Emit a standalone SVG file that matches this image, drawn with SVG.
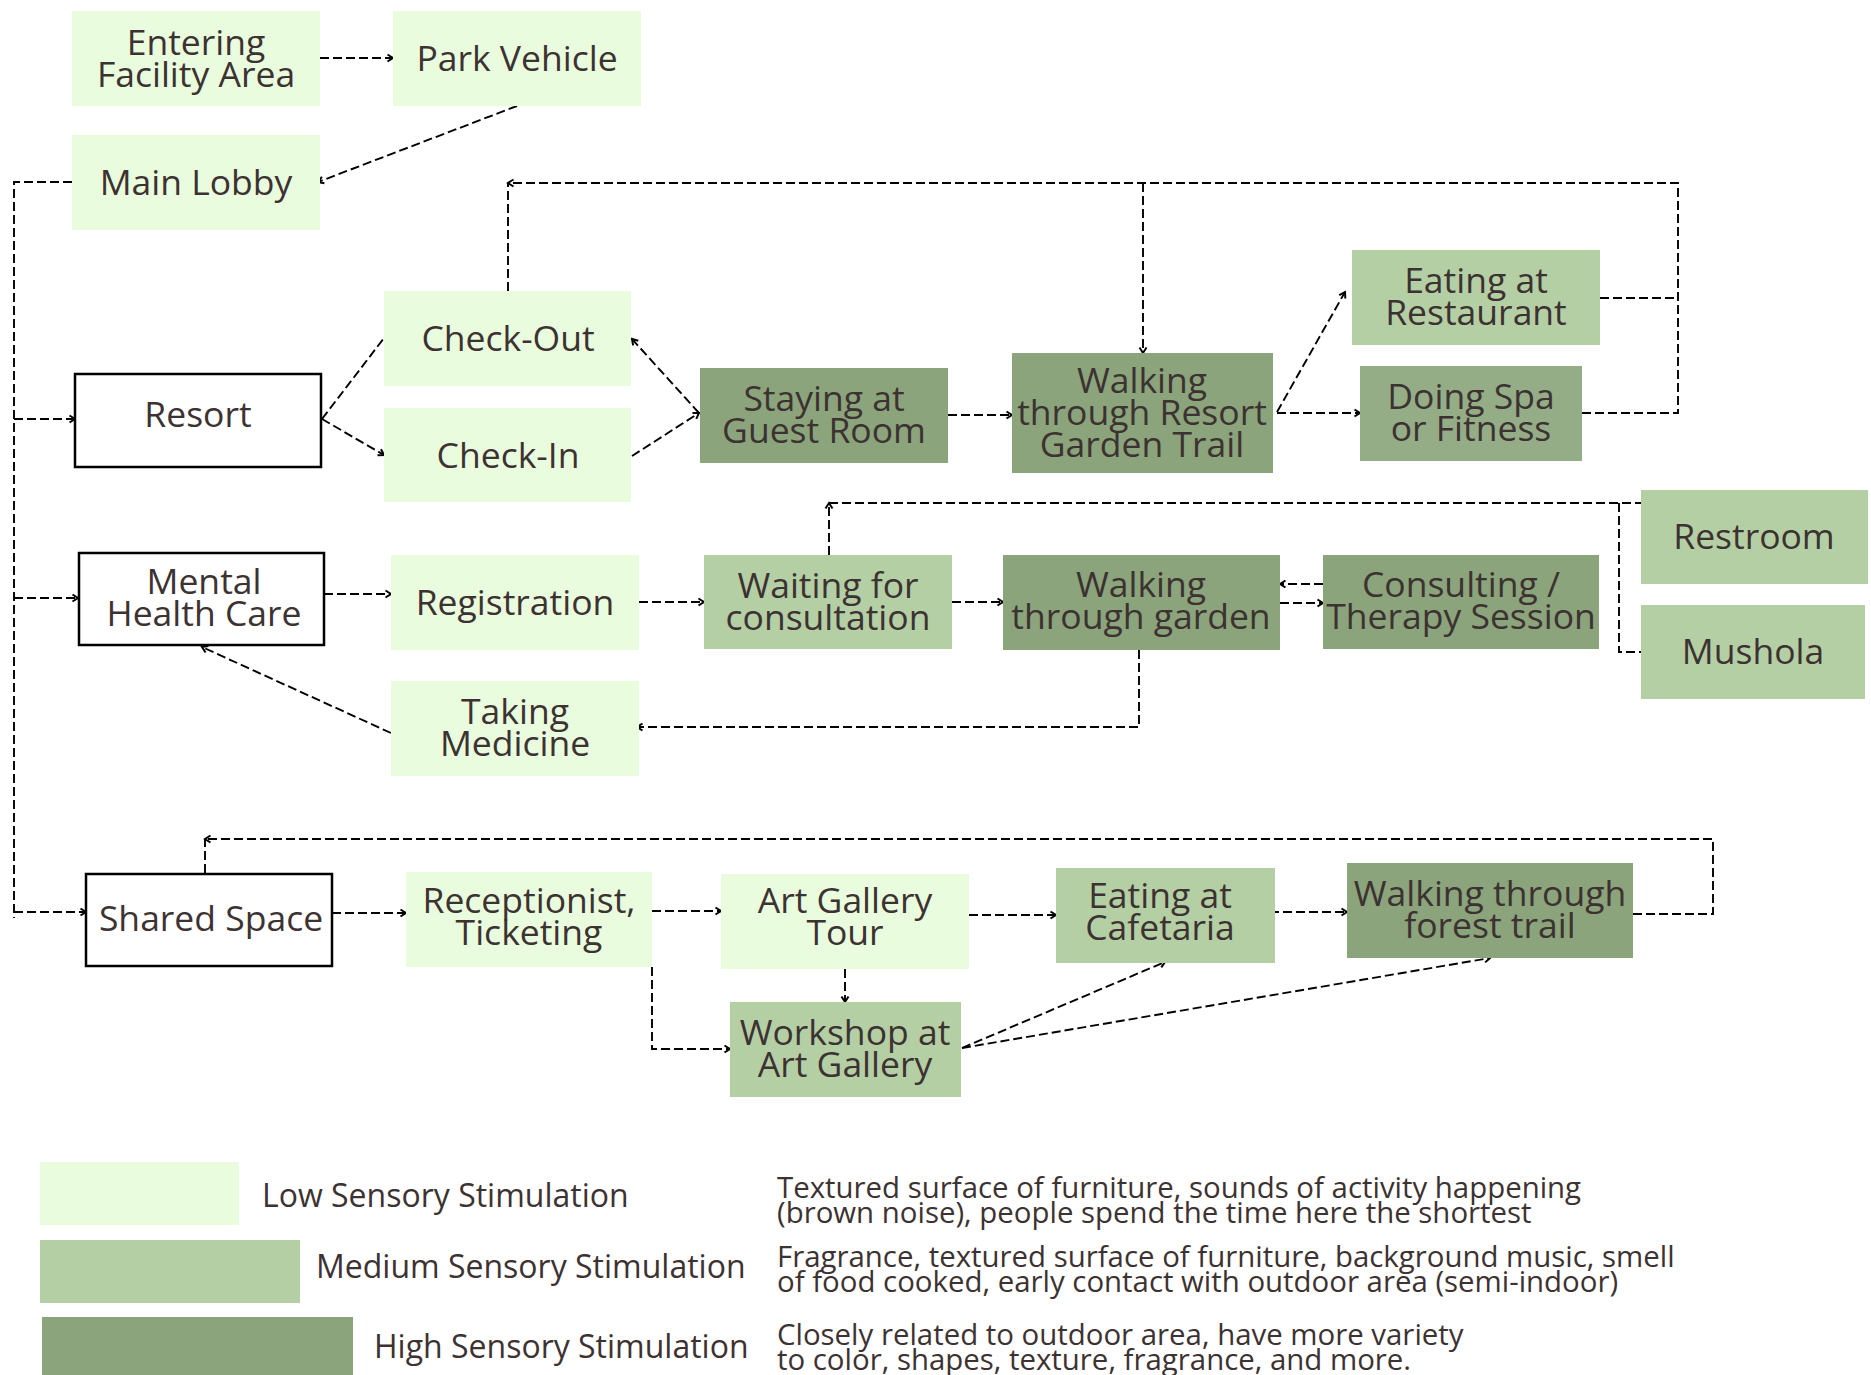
<svg xmlns="http://www.w3.org/2000/svg" width="1871" height="1375" viewBox="0 0 1871 1375">
<defs>
<marker id="a" markerWidth="10" markerHeight="10" refX="8" refY="5" orient="auto" markerUnits="userSpaceOnUse"><path d="M2.5,1.5 L8,5 L2.5,8.5" fill="none" stroke="#000" stroke-width="2"/></marker>
<style>
.low{fill:#e9fcdd}.med{fill:#b5cfa5}.high{fill:#8ba47b}.spa{fill:#94ad86}
.bord{fill:#fff;stroke:#000;stroke-width:2.5}
text{font-family:"Open Sans","Liberation Sans",sans-serif;fill:#3d3232}
.n{font-size:35.5px;text-anchor:middle}
.lg{font-size:32px}
.d{font-size:29.4px}
.c{fill:none;stroke:#000;stroke-width:1.9;stroke-dasharray:9 4}
.ar{marker-end:url(#a)}
</style>
</defs>
<rect width="1871" height="1375" fill="#fff"/>
<g id="connectors">
<path class="c ar" d="M320,58 H393"/>
<path class="c ar" d="M517,106 L318,182"/>
<path class="c" d="M72,182 H14 V918"/>
<path class="c ar" d="M14,419 H75"/>
<path class="c ar" d="M14,598 H78"/>
<path class="c ar" d="M14,912 H86"/>
<path class="c" d="M322,419 L384,338"/>
<path class="c ar" d="M322,419 L384,455"/>
<path class="c ar" d="M699,413 L632,339"/>
<path class="c ar" d="M632,456 L699,413"/>
<path class="c" d="M508,291 V183"/>
<path class="c ar" d="M1582,413 H1678 V183 H508"/>
<path class="c" d="M1600,298 H1678"/>
<path class="c ar" d="M1143,183 V353"/>
<path class="c ar" d="M948,415 H1012"/>
<path class="c ar" d="M1277,412 L1345,292"/>
<path class="c ar" d="M1277,413 H1360"/>
<path class="c ar" d="M324,594 H391"/>
<path class="c ar" d="M639,602 H704"/>
<path class="c ar" d="M952,602 H1003"/>
<path class="c ar" d="M1280,603 H1323"/>
<path class="c ar" d="M1323,584 H1280"/>
<path class="c ar" d="M1139,650 V727 H637"/>
<path class="c ar" d="M391,733 L202,647"/>
<path class="c ar" d="M829,555 V503"/>
<path class="c" d="M829,503 H1641"/>
<path class="c" d="M1619,503 V652 H1641"/>
<path class="c ar" d="M332,913 H406"/>
<path class="c ar" d="M652,911 H721"/>
<path class="c ar" d="M652,967 V1049 H730"/>
<path class="c ar" d="M845,969 V1002"/>
<path class="c ar" d="M969,915 H1056"/>
<path class="c ar" d="M1270,912 H1347"/>
<path class="c ar" d="M962,1048 L1165,962"/>
<path class="c ar" d="M962,1048 L1490,958"/>
<path class="c ar" d="M1633,914 H1713 V839 H205"/>
<path class="c" d="M205,873 V839"/>
</g>
<g id="entering"><rect class="low" x="72" y="11" width="248" height="95"/><text class="n" x="196" y="55">Entering</text><text class="n" x="196" y="87">Facility Area</text></g>
<g id="park"><rect class="low" x="393" y="11" width="248" height="95"/><text class="n" x="517" y="71">Park Vehicle</text></g>
<g id="lobby"><rect class="low" x="72" y="135" width="248" height="95"/><text class="n" x="196" y="195">Main Lobby</text></g>
<g id="resort"><rect class="bord" x="75" y="374" width="246" height="93"/><text class="n" x="198" y="427">Resort</text></g>
<g id="checkout"><rect class="low" x="384" y="291" width="247" height="95"/><text class="n" x="508" y="351">Check-Out</text></g>
<g id="checkin"><rect class="low" x="384" y="408" width="247" height="94"/><text class="n" x="508" y="468">Check-In</text></g>
<g id="staying"><rect class="high" x="700" y="368" width="248" height="95"/><text class="n" x="824" y="411">Staying at</text><text class="n" x="824" y="443">Guest Room</text></g>
<g id="walkresort"><rect class="high" x="1012" y="353" width="261" height="120"/><text class="n" x="1142" y="393">Walking</text><text class="n" x="1142" y="425">through Resort</text><text class="n" x="1142" y="457">Garden Trail</text></g>
<g id="restaurant"><rect class="med" x="1352" y="250" width="248" height="95"/><text class="n" x="1476" y="293">Eating at</text><text class="n" x="1476" y="325">Restaurant</text></g>
<g id="spa"><rect class="spa" x="1360" y="366" width="222" height="95"/><text class="n" x="1471" y="409">Doing Spa</text><text class="n" x="1471" y="441">or Fitness</text></g>
<g id="mhc"><rect class="bord" x="79" y="553" width="245" height="92"/><text class="n" x="204" y="594">Mental</text><text class="n" x="204" y="626">Health Care</text></g>
<g id="registration"><rect class="low" x="391" y="555" width="248" height="95"/><text class="n" x="515" y="615">Registration</text></g>
<g id="waiting"><rect class="med" x="704" y="555" width="248" height="94"/><text class="n" x="828" y="598">Waiting for</text><text class="n" x="828" y="630">consultation</text></g>
<g id="walkgarden"><rect class="high" x="1003" y="555" width="277" height="95"/><text class="n" x="1141" y="597">Walking</text><text class="n" x="1141" y="629">through garden</text></g>
<g id="consulting"><rect class="high" x="1323" y="555" width="276" height="94"/><text class="n" x="1461" y="597">Consulting /</text><text class="n" x="1461" y="629">Therapy Session</text></g>
<g id="restroom"><rect class="med" x="1641" y="490" width="227" height="94"/><text class="n" x="1754" y="549">Restroom</text></g>
<g id="mushola"><rect class="med" x="1641" y="605" width="224" height="94"/><text class="n" x="1753" y="664">Mushola</text></g>
<g id="medicine"><rect class="low" x="391" y="681" width="248" height="95"/><text class="n" x="515" y="724">Taking</text><text class="n" x="515" y="756">Medicine</text></g>
<g id="shared"><rect class="bord" x="86" y="874" width="246" height="92"/><text class="n" x="211" y="931">Shared Space</text></g>
<g id="reception"><rect class="low" x="406" y="872" width="246" height="95"/><text class="n" x="529" y="913">Receptionist,</text><text class="n" x="529" y="945">Ticketing</text></g>
<g id="artgallery"><rect class="low" x="721" y="874" width="248" height="95"/><text class="n" x="845" y="913">Art Gallery</text><text class="n" x="845" y="945">Tour</text></g>
<g id="workshop"><rect class="med" x="730" y="1002" width="231" height="95"/><text class="n" x="845" y="1045">Workshop at</text><text class="n" x="845" y="1077">Art Gallery</text></g>
<g id="cafetaria"><rect class="med" x="1056" y="868" width="219" height="95"/><text class="n" x="1160" y="908">Eating at</text><text class="n" x="1160" y="940">Cafetaria</text></g>
<g id="forest"><rect class="high" x="1347" y="863" width="286" height="95"/><text class="n" x="1490" y="906">Walking through</text><text class="n" x="1490" y="938">forest trail</text></g>
<g id="legend">
<rect class="low" x="40" y="1162" width="199" height="63"/>
<rect class="med" x="40" y="1240" width="260" height="63"/>
<rect class="high" x="42" y="1317" width="311" height="58"/>
<text class="lg" x="262" y="1207">Low Sensory Stimulation</text>
<text class="lg" x="316" y="1278">Medium Sensory Stimulation</text>
<text class="lg" x="374" y="1358">High Sensory Stimulation</text>
<text class="d" x="777" y="1198">Textured surface of furniture, sounds of activity happening</text>
<text class="d" x="777" y="1223">(brown noise), people spend the time here the shortest</text>
<text class="d" x="777" y="1267">Fragrance, textured surface of furniture, background music, smell</text>
<text class="d" x="777" y="1292">of food cooked, early contact with outdoor area (semi-indoor)</text>
<text class="d" x="777" y="1345">Closely related to outdoor area, have more variety</text>
<text class="d" x="777" y="1370">to color, shapes, texture, fragrance, and more.</text>
</g>
</svg>
